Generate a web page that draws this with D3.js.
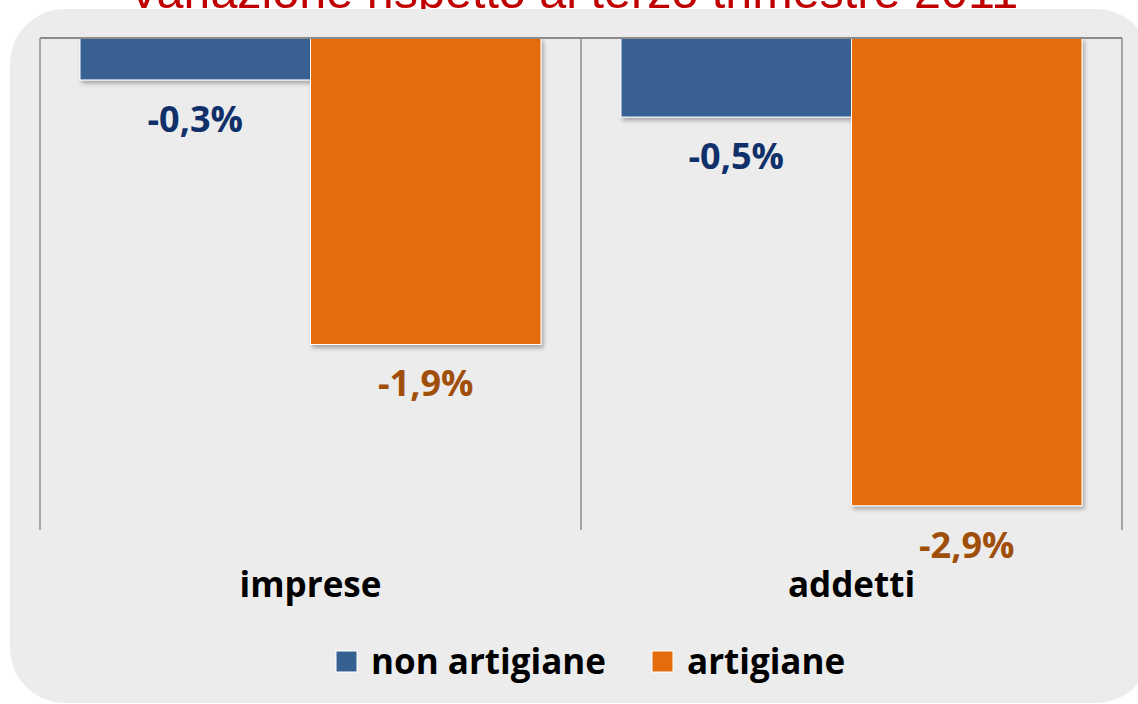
<!DOCTYPE html>
<html>
<head>
<meta charset="utf-8">
<script src="https://cdn.jsdelivr.net/npm/d3@7"></script>
<style>
  body { margin: 0; background: #ffffff; }
  svg { display: block; }
</style>
</head>
<body>
<div id="chart"></div>
<script>
// Data
const categories = ["imprese", "addetti"];
const seriesNames = ["non artigiane", "artigiane"];
const nonArtigiane = [-0.26, -0.49];
const artigiane = [-1.9, -2.9];
const valueLabels = [["-0,3%", "-0,5%"], ["-1,9%", "-2,9%"]];
const titleText = "Variazione rispetto al terzo trimestre 2011";

const colors = ["#376092", "#e46c0a"];
const labelColors = ["#10306a", "#a04f0b"];

const W = 1138, H = 704;

const svg = d3.select("#chart")
    .append("svg")
    .attr("width", W)
    .attr("height", H);

// drop shadow for bars
const defs = svg.append("defs");
const f = defs.append("filter").attr("id", "shadow")
    .attr("x", "-5%").attr("y", "-5%").attr("width", "115%").attr("height", "130%");
f.append("feDropShadow")
    .attr("dx", 2).attr("dy", 3).attr("stdDeviation", 2)
    .attr("flood-color", "#000").attr("flood-opacity", 0.3);

// Title (sits behind panel top, cut off like the original)
svg.append("text")
    .attr("x", 573)
    .attr("y", 8)
    .attr("text-anchor", "middle")
    .style("font-family", "'Liberation Sans', Arial, sans-serif")
    .style("font-size", "48.5px")
    .attr("fill", "#c00000")
    .text(titleText);

// Panel background
svg.append("rect")
    .attr("x", 10).attr("y", 9)
    .attr("width", 1141).attr("height", 694)
    .attr("rx", 55).attr("ry", 55)
    .attr("fill", "#ececec");

// Scales
const x0 = d3.scaleBand()
    .domain(categories)
    .range([40, 1122]);

const x1 = d3.scaleBand()
    .domain(seriesNames)
    .range([0, x0.bandwidth()])
    .paddingOuter(0.1735);

const y = d3.scaleLinear()
    .domain([-3.05, 0])
    .range([530, 38]);

// Frame: category separators
const frame = svg.append("g")
    .attr("stroke", "#8c8c8c")
    .attr("fill", "none");
const edges = categories.map(c => x0(c)).concat([x0(categories[categories.length - 1]) + x0.bandwidth()]);
frame.selectAll("line.sep")
    .data(edges)
    .join("line")
    .attr("class", "sep")
    .attr("x1", d => d).attr("x2", d => d)
    .attr("y1", y(0)).attr("y2", y.range()[0])
    .attr("stroke-width", 1.5);

// Bars
const rows = categories.map((c, i) => ({
    cat: c,
    vals: [nonArtigiane[i], artigiane[i]]
}));

const groups = svg.append("g")
    .selectAll("g")
    .data(rows)
    .join("g")
    .attr("transform", d => `translate(${x0(d.cat)},0)`);

groups.selectAll("rect")
    .data(d => d.vals.map((v, s) => ({ s, v })))
    .join("rect")
    .attr("x", d => x1(seriesNames[d.s]))
    .attr("y", y(0))
    .attr("width", x1.bandwidth())
    .attr("height", d => y(d.v) - y(0))
    .attr("fill", d => colors[d.s])
    .attr("stroke", "#ffffff")
    .attr("stroke-width", 1)
    .attr("filter", "url(#shadow)");

// Value labels
groups.selectAll("text")
    .data((d, i) => d.vals.map((v, s) => ({ s, v, lab: valueLabels[s][i] })))
    .join("text")
    .attr("x", d => x1(seriesNames[d.s]) + x1.bandwidth() / 2)
    .attr("y", d => y(d.v) + 52)
    .attr("text-anchor", "middle")
    .style("font-family", "'Open Sans', sans-serif")
    .style("font-weight", "bold")
    .style("font-size", "36px")
    .attr("fill", d => labelColors[d.s])
    .text(d => d.lab);

// Zero line on top
svg.append("line")
    .attr("x1", x0.range()[0]).attr("x2", x0.range()[1])
    .attr("y1", y(0)).attr("y2", y(0))
    .attr("stroke", "#8c8c8c")
    .attr("stroke-width", 2);

// Category labels
svg.append("g")
    .selectAll("text")
    .data(categories)
    .join("text")
    .attr("x", d => x0(d) + x0.bandwidth() / 2)
    .attr("y", 597)
    .attr("text-anchor", "middle")
    .style("font-family", "'Open Sans', sans-serif")
    .style("font-weight", "bold")
    .style("font-size", "35px")
    .attr("fill", "#000")
    .text(d => d);

// Legend
const legendX = [336, 652];
const legend = svg.append("g");
legend.selectAll("rect")
    .data(seriesNames)
    .join("rect")
    .attr("x", (d, i) => legendX[i])
    .attr("y", 651)
    .attr("width", 21).attr("height", 21)
    .attr("fill", (d, i) => colors[i])
    .attr("stroke", "#ffffff")
    .attr("stroke-width", 1);
legend.selectAll("text")
    .data(seriesNames)
    .join("text")
    .attr("x", (d, i) => legendX[i] + 35)
    .attr("y", 674)
    .style("font-family", "'Open Sans', sans-serif")
    .style("font-weight", "bold")
    .style("font-size", "35px")
    .attr("fill", "#000")
    .text(d => d);
</script>
</body>
</html>
